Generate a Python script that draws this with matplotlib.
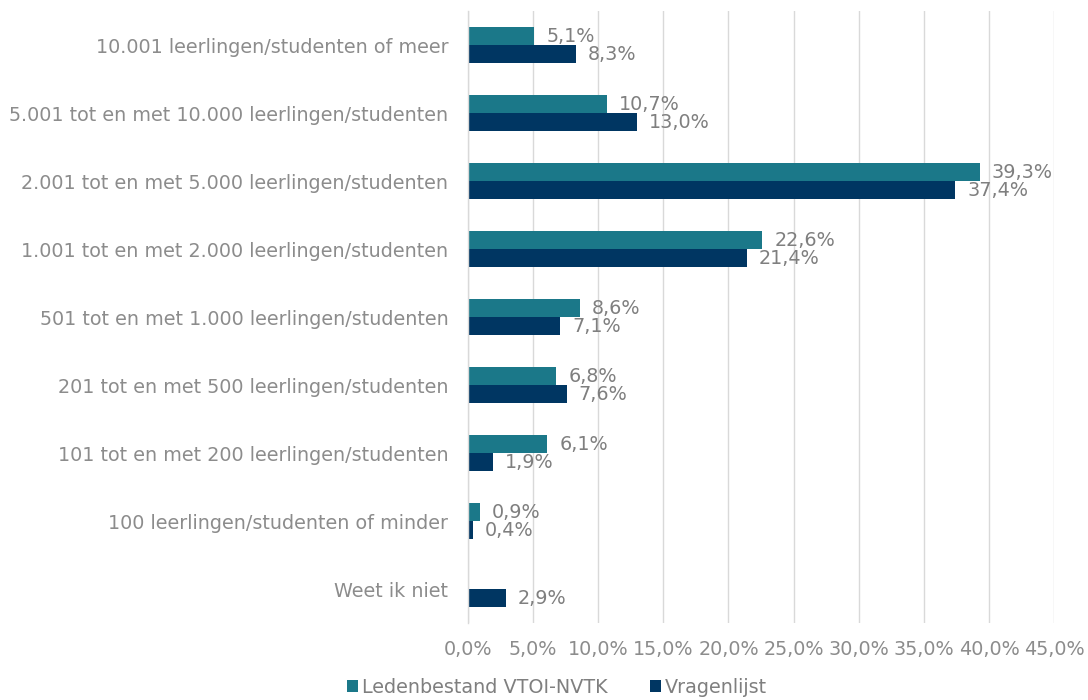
import matplotlib
matplotlib.use("Agg")
import matplotlib.pyplot as plt
import numpy as np
from matplotlib.ticker import MultipleLocator, FuncFormatter

categories = [
    "10.001 leerlingen/studenten of meer",
    "5.001 tot en met 10.000 leerlingen/studenten",
    "2.001 tot en met 5.000 leerlingen/studenten",
    "1.001 tot en met 2.000 leerlingen/studenten",
    "501 tot en met 1.000 leerlingen/studenten",
    "201 tot en met 500 leerlingen/studenten",
    "101 tot en met 200 leerlingen/studenten",
    "100 leerlingen/studenten of minder",
    "Weet ik niet",
]
ledenbestand = [5.1, 10.7, 39.3, 22.6, 8.6, 6.8, 6.1, 0.9, None]
vragenlijst = [8.3, 13.0, 37.4, 21.4, 7.1, 7.6, 1.9, 0.4, 2.9]
series_names = ["Ledenbestand VTOI-NVTK", "Vragenlijst"]
colors = ["#1b7889", "#003662"]

plt.rcParams['font.family'] = ['DejaVu Sans']
fig = plt.figure(figsize=(10.88, 7.0), dpi=100)
ax = fig.add_axes([0.430, 0.110, 0.539, 0.874])

n = len(categories)
y = np.arange(n)
h = 0.265
text_col = "#7f7f7f"
fs = 13.8

def fmt(v):
    return f"{v:.1f}%".replace(".", ",")

for i, (vals, col, off) in enumerate([(ledenbestand, colors[0], -h / 2), (vragenlijst, colors[1], h / 2)]):
    ys = [yy + off for yy, v in zip(y, vals) if v is not None]
    xs = [v for v in vals if v is not None]
    ax.barh(ys, xs, height=h, color=col, label=series_names[i], zorder=3)
    for yy, v in zip(ys, xs):
        ax.annotate(fmt(v), (v, yy), xytext=(8.5, 0), textcoords="offset points",
                    va="center", ha="left", fontsize=fs, color=text_col)

ax.set_ylim(n - 0.5, -0.5)
ax.set_xlim(0, 45)
ax.xaxis.set_major_locator(MultipleLocator(5))
ax.xaxis.set_major_formatter(FuncFormatter(lambda v, p: fmt(v)))
ax.set_yticks(y)
ax.set_yticklabels(categories)
ax.tick_params(axis='both', length=0, labelsize=fs, labelcolor="#8c8c8c")
ax.tick_params(axis='y', pad=14)
ax.tick_params(axis='x', pad=12)
ax.grid(axis='x', color="#d9d9d9", linewidth=1, zorder=0)
for s in ["top", "right", "bottom"]:
    ax.spines[s].set_visible(False)
ax.spines["left"].set_color("#d9d9d9")
ax.spines["left"].set_linewidth(1)
ax.spines["left"].set_zorder(4)

leg = fig.legend(loc="lower center", bbox_to_anchor=(0.512, -0.02), ncol=2, frameon=False,
                 fontsize=fs, handlelength=0.6, handleheight=0.6, handletextpad=0.2,
                 columnspacing=2.2)
for t in leg.get_texts():
    t.set_color(text_col)

fig.savefig("out.png", dpi=100)
